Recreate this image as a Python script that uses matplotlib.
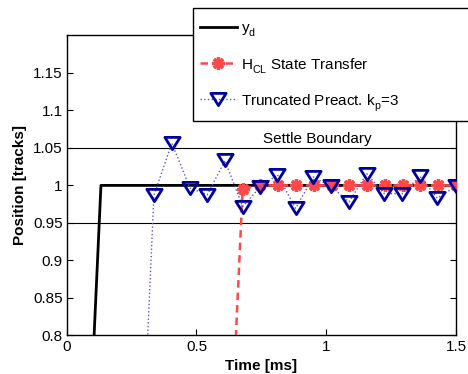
import numpy as np
import matplotlib
matplotlib.use("Agg")
import matplotlib.pyplot as plt
from matplotlib.path import Path
from matplotlib.patches import Rectangle
try:
    import matplotlib._mathtext as _mt
    _mt.FontConstantsBase.sub1 = 0.5
    _mt.FontConstantsBase.sub2 = 0.6
except Exception:
    pass

plt.rcParams['font.family'] = ['Liberation Sans', 'DejaVu Sans']
plt.rcParams['mathtext.fontset'] = 'custom'
plt.rcParams['mathtext.rm'] = 'Liberation Sans'
plt.rcParams['mathtext.it'] = 'Liberation Sans'

# ---- data ----
yd_t = [0.0, 0.132, 1.5]
yd_y = [0.0, 1.0, 1.0]

hcl_t = [0.6095, 0.678, 0.7465, 0.815, 0.8835, 0.952, 1.0205, 1.089, 1.1575, 1.226, 1.2945, 1.363, 1.4315, 1.5]
hcl_y = [0.48, 0.9956, 1.0, 1.0, 1.0, 1.0, 1.0, 1.0, 1.0, 1.0, 1.0, 1.0, 1.0, 1.0]

tp_t = [0.2675, 0.336, 0.405, 0.475, 0.542, 0.610, 0.678, 0.746, 0.812, 0.882, 0.950,
        1.017, 1.088, 1.156, 1.224, 1.293, 1.361, 1.428, 1.499]
tp_y = [0.45, 0.9867, 1.0564, 0.9965, 0.9876, 1.0333, 0.9717, 0.998, 1.0142, 0.9694, 1.0112,
        0.9987, 0.978, 1.0156, 0.989, 0.989, 1.012, 0.983, 0.9987]

settle_hi = 1.05
settle_lo = 0.95

xticks = [0, 0.5, 1, 1.5]
xticklabels = ['0', '0.5', '1', '1.5']
yticks = [0.8, 0.85, 0.9, 0.95, 1.0, 1.05, 1.1, 1.15]
yticklabels = ['0.8', '0.85', '0.9', '0.95', '1', '1.05', '1.1', '1.15']

labels = [r'$\mathregular{y_d}$', r'$\mathregular{H_{CL}}$ State Transfer',
          r'Truncated Preact. $\mathregular{k_p}$=3']

# ---- figure ----
fig = plt.figure(figsize=(4.68, 3.74), dpi=100)
ax = fig.add_axes([0.1425, 0.103, 0.9744 - 0.1425, 0.9056 - 0.103])

tri = Path([(-1, 0.8), (1, 0.8), (0, -0.8), (-1, 0.8)],
           [Path.MOVETO, Path.LINETO, Path.LINETO, Path.CLOSEPOLY])

ax.axhline(settle_hi, color='black', lw=0.8, zorder=1)
ax.axhline(settle_lo, color='black', lw=0.8, zorder=1)

l1, = ax.plot(yd_t, yd_y, color='black', lw=2.0, zorder=2)
l2, = ax.plot(hcl_t, hcl_y, color='#ff4848', lw=1.8, linestyle=(0, (3, 2)),
              marker=(8, 2, 0), markersize=9, markeredgewidth=2.4,
              markeredgecolor='#ff4848', zorder=3)
l3, = ax.plot(tp_t, tp_y, color='#5858c8', lw=1.0, linestyle=':',
              marker=tri, markersize=11, markeredgewidth=2.0,
              markeredgecolor='#0000a0', markerfacecolor='none', zorder=4)

ax.text(0.966, 1.062, 'Settle Boundary', ha='center', va='center', fontsize=11)

ax.set_xlim(0, 1.5)
ax.set_ylim(0.8, 1.2)
ax.set_xticks(xticks)
ax.set_xticklabels(xticklabels)
ax.set_yticks(yticks)
ax.set_yticklabels(yticklabels)
ax.tick_params(direction='in', length=4, width=0.8, labelsize=11,
               top=True, right=True, pad=3)
for s in ax.spines.values():
    s.set_linewidth(1.0)

ax.set_xlabel('Time [ms]', fontsize=11, fontweight='bold', labelpad=4)
ax.set_ylabel('Position [tracks]', fontsize=11, fontweight='bold', labelpad=4)

# legend frame drawn by hand (extends beyond the right edge)
W, H = 468.0, 374.0
frame = Rectangle((193 / W, 1 - 121 / H), 0.7, (121 - 8.3) / H,
                  transform=fig.transFigure, facecolor='white',
                  edgecolor='black', linewidth=1.0, zorder=9, clip_on=False)
fig.add_artist(frame)

leg = fig.legend([l1, l2, l3], labels, loc='upper left',
                 bbox_to_anchor=(200 / W, 1 - 21.5 / H),
                 fontsize=11, frameon=False,
                 borderpad=0, labelspacing=1.12, handlelength=2.4,
                 handletextpad=0.3, borderaxespad=0)
leg.set_zorder(10)

fig.savefig('out.png', dpi=100)
